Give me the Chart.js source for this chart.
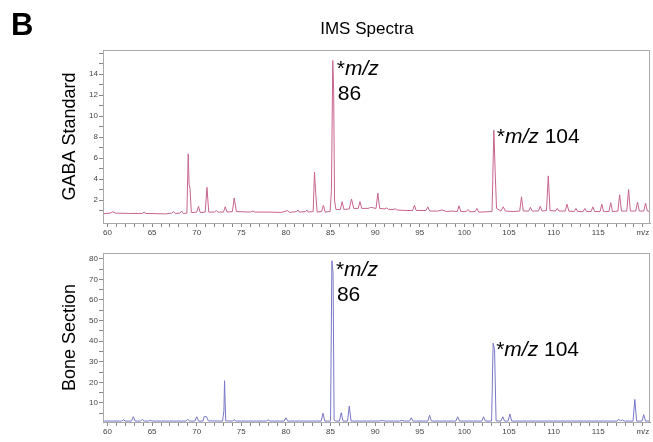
<!DOCTYPE html>
<html lang="en">
<head>
  <meta charset="UTF-8">
  <title>IMS Spectra</title>
  <script src="https://cdn.jsdelivr.net/npm/chart.js"></script>
  <style>
    body {
      margin: 0;
      background: #fff;
      font-family: 'Liberation Sans', Arial, sans-serif;
    }
    .page {
      position: relative;
      width: 653px;
      height: 442px;
      overflow: hidden;
    }
    .panel-letter {
      position: absolute;
      left: 11px;
      top: 7px;
      font-size: 31px;
      font-weight: bold;
    }
    .title {
      position: absolute;
      left: 0;
      width: 734px;
      top: 19px;
      text-align: center;
      font-size: 17px;
    }
    canvas { position: absolute; left: 0; }
    #chartGaba { top: 0; }
    #chartBone { top: 240px; }
  </style>
</head>
<body>
  <div class="page">
    <canvas id="chartGaba" width="653" height="240"></canvas>
    <canvas id="chartBone" width="653" height="202"></canvas>
    <div class="panel-letter">B</div>
    <div class="title">IMS Spectra</div>
  </div>
  <script>
    // spectra (m/z, intensity)
    const gabaMz = [59.5, 60.3, 60.6, 60.9, 62.5, 63.9, 64.1, 64.3, 66.5, 67.2, 67.4, 67.6, 68.1, 68.3, 68.5, 68.9, 69.05, 69.15, 69.25, 69.4,
      70.0, 70.2, 70.4, 70.95, 71.15, 71.35, 72.0, 72.2, 72.4, 73.0, 73.2, 73.4, 74.0, 74.2, 74.45, 76.0, 76.3, 76.5, 78.0, 79.5,
      80.2, 80.4, 81.2, 81.35, 81.5, 82.2, 82.35, 82.5, 83.05, 83.2, 83.35, 83.5, 84.0, 84.2, 84.4, 84.95, 85.1, 85.25, 85.35, 85.45,
      85.6, 86.1, 86.3, 86.5, 87.1, 87.35, 87.6, 88.1, 88.3, 88.5, 89.2, 89.5, 90.1, 90.3, 90.5, 91.1, 91.3, 91.5, 92.1, 92.25,
      92.4, 93.5, 94.2, 94.4, 94.6, 95.7, 95.9, 96.1, 97.0, 97.5, 98.0, 98.5, 99.2, 99.4, 99.6, 100.2, 100.4, 100.6, 101.2, 101.4,
      101.6, 103.1, 103.3, 103.45, 103.6, 104.1, 104.35, 104.6, 105.5, 106.2, 106.4, 106.6, 107.2, 107.4, 107.6, 108.3, 108.5, 108.7, 109.2, 109.4,
      109.6, 110.2, 110.4, 110.6, 111.3, 111.5, 111.7, 112.3, 112.5, 112.7, 113.3, 113.5, 113.7, 114.2, 114.4, 114.6, 115.2, 115.4, 115.6, 116.2,
      116.4, 116.6, 117.2, 117.4, 117.6, 118.2, 118.4, 118.6, 119.2, 119.4, 119.6, 120.1, 120.3, 120.5, 120.8];
    const gabaIntensity = [0.7, 0.75, 0.88, 0.75, 0.72, 0.72, 0.85, 0.72, 0.68, 0.75, 0.9, 0.72, 0.75, 0.95, 0.72, 0.75, 6.4, 3.5, 3.1, 0.8,
      0.85, 1.4, 0.8, 0.85, 3.2, 0.85, 0.85, 1.0, 0.85, 0.85, 1.35, 0.85, 0.9, 2.2, 0.9, 0.85, 0.95, 0.85, 0.85, 0.82,
      1.0, 0.82, 0.9, 1.05, 0.85, 0.9, 1.05, 0.85, 0.9, 4.65, 2.5, 0.85, 0.9, 1.5, 0.85, 0.9, 2.9, 15.3, 12.5, 2.0,
      1.1, 1.1, 1.85, 1.1, 1.15, 2.1, 1.2, 1.2, 1.85, 1.2, 1.2, 1.3, 1.2, 2.65, 1.2, 1.15, 1.25, 1.1, 1.1, 1.2,
      1.05, 1.0, 1.0, 1.5, 1.0, 1.0, 1.35, 0.95, 0.95, 1.05, 0.9, 0.95, 0.9, 1.45, 0.9, 0.9, 1.1, 0.88, 0.9, 1.2,
      0.85, 0.9, 8.65, 4.7, 1.2, 0.95, 1.35, 0.95, 0.9, 0.95, 2.3, 0.95, 0.95, 1.3, 0.95, 0.95, 1.4, 0.95, 1.0, 4.3,
      1.0, 0.95, 1.2, 0.95, 0.95, 1.6, 0.95, 0.9, 1.2, 0.9, 0.9, 1.2, 0.9, 0.9, 1.35, 0.9, 0.9, 1.6, 0.9, 0.9,
      1.75, 0.9, 0.95, 2.5, 0.95, 0.95, 3.0, 0.95, 0.95, 1.8, 0.95, 0.95, 1.7, 0.95, 0.9];

    const boneMz = [59.5, 61.6, 61.8, 62.0, 62.7, 62.9, 63.1, 63.7, 63.9, 64.1, 64.6, 64.8, 65.0, 68.8, 69.0, 69.2, 69.8, 70.0, 70.2, 70.7,
      70.85, 71.1, 71.3, 72.9, 73.05, 73.12, 73.25, 74.0, 74.2, 74.4, 77.8, 78.0, 78.2, 79.8, 80.0, 80.2, 83.95, 84.15, 84.35, 85.0,
      85.15, 85.28, 85.4, 85.6, 86.0, 86.2, 86.4, 86.9, 87.1, 87.3, 90.5, 90.8, 91.1, 92.7, 93.0, 93.3, 93.85, 94.05, 94.25, 95.9,
      96.1, 96.3, 99.05, 99.25, 99.45, 101.95, 102.15, 102.35, 103.05, 103.22, 103.38, 103.55, 104.1, 104.3, 104.5, 104.9, 105.1, 105.3, 108.0, 112.0,
      117.1, 117.3, 117.5, 117.7, 117.9, 118.9, 119.1, 119.3, 119.9, 120.1, 120.3, 120.8];
    const boneIntensity = [1.2, 1.2, 1.8, 1.2, 1.2, 3.3, 1.2, 1.2, 2.0, 1.2, 1.2, 1.6, 1.2, 1.2, 2.0, 1.2, 1.2, 3.3, 1.2, 1.2,
      3.5, 3.3, 1.3, 1.2, 6.2, 20.8, 1.3, 1.2, 1.8, 1.2, 1.2, 1.8, 1.2, 1.2, 2.8, 1.2, 1.2, 5.0, 1.2, 1.2,
      79, 73.5, 1.6, 1.2, 1.2, 5.3, 1.2, 1.2, 8.5, 1.2, 1.2, 1.5, 1.2, 1.2, 1.5, 1.2, 1.2, 2.8, 1.2, 1.2,
      4.0, 1.2, 1.2, 3.3, 1.2, 1.2, 3.3, 1.2, 1.2, 39, 36, 1.3, 1.2, 3.3, 1.2, 1.2, 4.6, 1.2, 1.2, 1.2,
      1.2, 2.0, 1.3, 1.7, 1.2, 1.2, 11.7, 1.2, 1.2, 4.3, 1.2, 1.2];

    // axis ticks
    const mzTicks = [60, 61, 62, 63, 64, 65, 66, 67, 68, 69, 70, 71, 72, 73, 74, 75, 76, 77, 78, 79, 80, 81, 82, 83, 84, 85, 86, 87, 88, 89, 90,
      91, 92, 93, 94, 95, 96, 97, 98, 99, 100, 101, 102, 103, 104, 105, 106, 107, 108, 109, 110, 111, 112, 113, 114, 115, 116, 117, 118, 119, 120];
    const mzTickLabels = [60, 65, 70, 75, 80, 85, 90, 95, 100, 105, 110, 115];
    const gabaYTicks = [1, 2, 3, 4, 5, 6, 7, 8, 9, 10, 11, 12, 13, 14, 15, 16];
    const gabaYLabels = [2, 4, 6, 8, 10, 12, 14];
    const boneYTicks = [5, 10, 15, 20, 25, 30, 35, 40, 45, 50, 55, 60, 65, 70, 75, 80];
    const boneYLabels = [10, 20, 30, 40, 50, 60, 70, 80];

    // peak annotations: [m/z, intensity] of the labelled peak
    const gabaPeaks = [[85.25, 15.3], [103.3, 8.65]];
    const bonePeaks = [[85.15, 79], [103.22, 39]];

    const FONT = "'Liberation Sans', Arial, sans-serif";

    function points(xs, ys) {
      return xs.map((x, i) => ({ x: x, y: ys[i] }));
    }

    function drawRich(ctx, parts, x, y) {
      parts.forEach(p => {
        ctx.font = (p.i ? 'italic ' : '') + '21px ' + FONT;
        ctx.fillText(p.t, x, y);
        x += ctx.measureText(p.t).width;
      });
    }

    const specLabels = {
      id: 'specLabels',
      afterDraw(chart, args, opts) {
        const ctx = chart.ctx;
        const a = chart.chartArea;
        ctx.save();
        // plot box
        ctx.strokeStyle = '#aaa';
        ctx.lineWidth = 1;
        ctx.strokeRect(a.left + 0.5, a.top + 0.5, a.right - a.left - 1, a.bottom - a.top);
        // y title
        ctx.fillStyle = '#000';
        ctx.font = '18px ' + FONT;
        ctx.textAlign = 'center';
        ctx.textBaseline = 'middle';
        ctx.translate(70, (a.top + a.bottom) / 2);
        ctx.rotate(-Math.PI / 2);
        ctx.fillText(opts.title, 0, 0);
        ctx.restore();

        ctx.save();
        ctx.fillStyle = '#000';
        ctx.textAlign = 'left';
        ctx.textBaseline = 'alphabetic';
        const xs = chart.scales.x, ys = chart.scales.y;
        const p86 = opts.peaks[0], p104 = opts.peaks[1];
        let px = xs.getPixelForValue(p86[0]) + 4;
        let py = ys.getPixelForValue(p86[1]) + 15;
        drawRich(ctx, [{ t: '*' }, { t: 'm/z', i: true }], px, py);
        drawRich(ctx, [{ t: '86' }], px + 1, py + 25);
        px = xs.getPixelForValue(p104[0]) + 3;
        py = ys.getPixelForValue(p104[1]) + 13;
        drawRich(ctx, [{ t: '*' }, { t: 'm/z', i: true }, { t: ' 104' }], px, py);
        ctx.restore();
      }
    };

    function makeChart(id, xs, ys, color, yMin, yMax, yTicks, yLabels, title, peaks, padTop, xHeight) {
      return new Chart(document.getElementById(id), {
        type: 'line',
        data: {
          datasets: [{
            data: points(xs, ys),
            borderColor: color,
            borderWidth: 1,
            pointRadius: 0,
            tension: 0
          }]
        },
        options: {
          responsive: false,
          animation: false,
          layout: { padding: { top: padTop, right: 3, left: 0, bottom: 0 } },
          plugins: {
            legend: { display: false },
            tooltip: { enabled: false },
            specLabels: { title: title, peaks: peaks }
          },
          scales: {
            x: {
              type: 'linear',
              min: 59.5,
              max: 120.8,
              afterBuildTicks: s => { s.ticks = mzTicks.map(v => ({ value: v })); },
              afterFit: s => { s.height = xHeight; },
              grid: { drawOnChartArea: false, drawTicks: true, tickLength: 4, tickColor: '#888' },
              border: { color: '#999' },
              ticks: {
                autoSkip: false,
                maxRotation: 0,
                padding: 1,
                color: '#444',
                font: { size: 8, family: FONT },
                callback: v => v === 120 ? 'm/z' : (mzTickLabels.includes(v) ? String(v) : '')
              }
            },
            y: {
              min: yMin,
              max: yMax,
              afterBuildTicks: s => { s.ticks = yTicks.map(v => ({ value: v })); },
              afterFit: s => { s.width = 103; },
              grid: { drawOnChartArea: false, drawTicks: true, tickLength: 4, tickColor: '#888' },
              border: { color: '#999' },
              ticks: {
                autoSkip: false,
                padding: 1,
                color: '#444',
                font: { size: 8, family: FONT },
                callback: v => yLabels.includes(v) ? String(v) : ''
              }
            }
          }
        },
        plugins: [specLabels]
      });
    }

    makeChart('chartGaba', gabaMz, gabaIntensity, '#c8648e', -0.19, 16.3, gabaYTicks, gabaYLabels,
      'GABA Standard', gabaPeaks, 50, 17);
    makeChart('chartBone', boneMz, boneIntensity, '#7878c6', 0.75, 82.8, boneYTicks, boneYLabels,
      'Bone Section', bonePeaks, 13, 20);
  </script>
</body>
</html>
